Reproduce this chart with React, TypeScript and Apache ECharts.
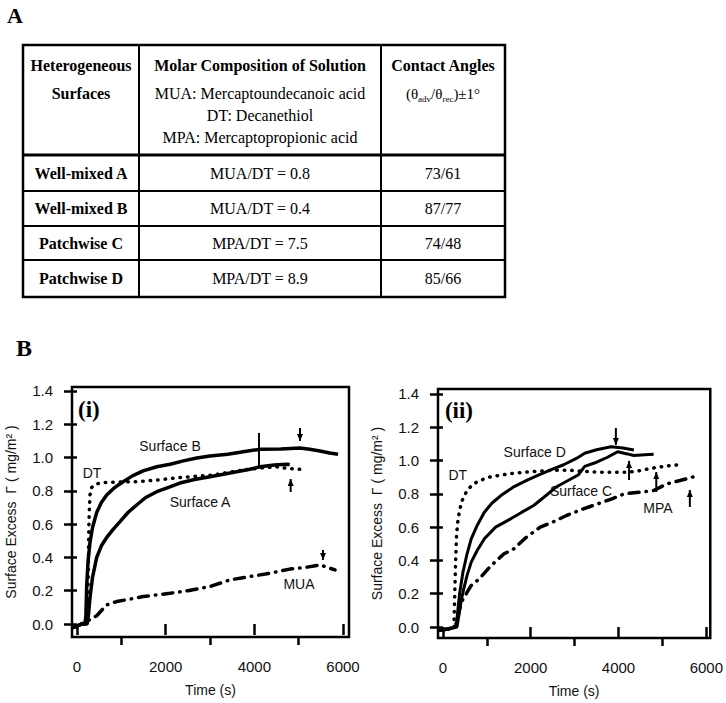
import { useEffect, useRef } from "react";
import * as echarts from "echarts";

// ---------- Data ----------
const xMajorTicks = [0, 2000, 4000, 6000];
const xMinorTicks = [1000, 3000, 5000];
const yTicks = [0, 0.2, 0.4, 0.6, 0.8, 1.0, 1.2, 1.4];

// Panel (i)
const surfaceB: [number, number][] = [
  [-50, -0.02], [100, 0.0], [180, 0.0], [200, 0.05], [218, 0.23], [250, 0.38], [293, 0.49], [350, 0.58],
  [444, 0.67], [550, 0.73], [670, 0.775], [850, 0.82], [1040, 0.855], [1250, 0.89], [1490, 0.92],
  [1800, 0.945], [2100, 0.96], [2400, 0.98], [2700, 0.997], [3000, 1.01], [3400, 1.02], [3750, 1.035],
  [4130, 1.05], [4600, 1.052], [5030, 1.057], [5250, 1.05], [5480, 1.04], [5700, 1.028], [5890, 1.02],
];
const surfaceA: [number, number][] = [
  [-50, -0.02], [100, 0.0], [230, 0.0], [260, 0.06], [293, 0.16], [350, 0.28], [444, 0.4], [550, 0.47],
  [670, 0.52], [820, 0.57], [970, 0.615], [1150, 0.67], [1345, 0.715], [1550, 0.76], [1800, 0.795],
  [2050, 0.82], [2320, 0.847], [2650, 0.868], [3000, 0.885], [3300, 0.9], [3600, 0.915], [3900, 0.93],
  [4130, 0.945], [4450, 0.955], [4730, 0.96], [4800, 0.958],
];
const dtI: [number, number][] = [
  [-80, -0.02], [100, 0.0], [200, 0.0], [240, 0.1], [255, 0.3], [262, 0.5], [270, 0.62], [280, 0.7],
  [293, 0.775], [330, 0.82], [406, 0.84], [587, 0.85], [900, 0.853], [1345, 0.855], [1800, 0.865],
  [2320, 0.88], [2700, 0.888], [3070, 0.895], [3400, 0.91], [3750, 0.925], [4130, 0.937], [4500, 0.945],
  [4730, 0.935], [5000, 0.93], [5180, 0.925],
];
const mua: [number, number][] = [
  [-80, -0.02], [100, 0.0], [250, 0.02], [444, 0.05], [670, 0.115], [895, 0.135], [1200, 0.15],
  [1490, 0.165], [1800, 0.175], [2100, 0.185], [2500, 0.2], [3000, 0.225], [3450, 0.265], [3900, 0.285],
  [4350, 0.305], [4800, 0.33], [5150, 0.34], [5480, 0.355], [5650, 0.34], [5820, 0.325],
];

// Panel (ii)
const surfaceD: [number, number][] = [
  [-50, -0.02], [150, -0.01], [300, 0.0], [340, 0.1], [380, 0.2], [457, 0.33], [550, 0.44], [645, 0.53],
  [780, 0.61], [944, 0.69], [1120, 0.745], [1320, 0.79], [1600, 0.84], [1920, 0.883], [2200, 0.915],
  [2440, 0.943], [2750, 0.975], [3040, 1.013], [3230, 1.044], [3500, 1.065], [3830, 1.083], [4100, 1.075],
  [4350, 1.064],
];
const surfaceC: [number, number][] = [
  [-50, -0.02], [150, -0.01], [320, 0.0], [370, 0.08], [410, 0.15], [457, 0.21], [550, 0.31], [645, 0.39],
  [780, 0.46], [944, 0.53], [1200, 0.6], [1544, 0.65], [1800, 0.69], [2067, 0.73], [2350, 0.79],
  [2590, 0.843], [2850, 0.88], [3080, 0.913], [3230, 0.965], [3500, 0.99], [3750, 1.02], [3980, 1.053],
  [4200, 1.04], [4350, 1.03], [4600, 1.035], [4800, 1.038],
];
const dtII: [number, number][] = [
  [-80, -0.02], [150, -0.01], [250, 0.0], [270, 0.2], [290, 0.4], [310, 0.55], [345, 0.65], [420, 0.75],
  [530, 0.81], [650, 0.85], [795, 0.875], [1050, 0.9], [1320, 0.913], [1650, 0.925], [1990, 0.933],
  [2400, 0.94], [2850, 0.943], [3200, 0.935], [3600, 0.93], [4240, 0.93], [4500, 0.94], [4730, 0.953],
  [5100, 0.968], [5480, 0.978],
];
const mpa: [number, number][] = [
  [-50, -0.02], [150, -0.01], [300, 0.02], [420, 0.15], [532, 0.2], [645, 0.25], [830, 0.29], [1100, 0.37],
  [1393, 0.44], [1618, 0.47], [1880, 0.535], [2218, 0.6], [2500, 0.63], [2816, 0.67], [3200, 0.71],
  [3530, 0.74], [3850, 0.77], [4130, 0.8], [4500, 0.81], [4800, 0.82], [5100, 0.86], [5400, 0.88],
  [5810, 0.91],
];

// Annotations (data coordinates): [gridIndex, t, vFrom, vTo, head]
const arrows: [number, number, number, number, string][] = [
  [0, 4105, 1.148, 0.943, "none"],
  [0, 5030, 1.178, 1.1, "down"],
  [0, 4820, 0.793, 0.871, "up"],
  [0, 5550, 0.445, 0.385, "down"],
  [1, 3940, 1.196, 1.094, "down"],
  [1, 4240, 0.883, 0.998, "up"],
  [1, 4860, 0.811, 0.931, "up"],
  [1, 5625, 0.721, 0.823, "up"],
];
// [gridIndex, t, v, text, align]
const curveLabels: [number, number, number, string, string][] = [
  [0, 2098, 1.07, "Surface B", "center"],
  [0, 338, 0.907, "DT", "center"],
  [0, 2775, 0.733, "Surface A", "center"],
  [0, 5008, 0.24, "MUA", "center"],
  [1, 2090, 1.05, "Surface D", "center"],
  [1, 337, 0.913, "DT", "center"],
  [1, 3146, 0.817, "Surface C", "center"],
  [1, 4900, 0.715, "MPA", "center"],
];
const panelLabels: [number, number, number, string][] = [
  [0, 23, 1.29, "(i)"],
  [1, 45, 1.3, "(ii)"],
];

// Table
const headerCol1 = ["Heterogeneous", "Surfaces"];
const headerCol2Title = "Molar Composition of Solution";
const headerCol2Lines = ["MUA: Mercaptoundecanoic acid", "DT: Decanethiol", "MPA: Mercaptopropionic acid"];
const headerCol3Title = "Contact Angles";
const surfaces = ["Well-mixed A", "Well-mixed B", "Patchwise C", "Patchwise D"];
const compositions = ["MUA/DT = 0.8", "MUA/DT = 0.4", "MPA/DT = 7.5", "MPA/DT = 8.9"];
const contactAngles = ["73/61", "87/77", "74/48", "85/66"];

const SANS = "'Liberation Sans', Arial, Helvetica, sans-serif";
const SERIF = "'Liberation Serif', 'Times New Roman', serif";

function buildTable(): any[] {
  const L = 23, R = 505, T = 45, B = 297;
  const c1 = 139, c2 = 381;
  const rowLines = [155, 191, 226, 260];
  const rowCenters = [173, 208.5, 243, 278.5];
  const g: any[] = [];
  g.push({ type: "rect", shape: { x: L, y: T, width: R - L, height: B - T }, style: { fill: "none", stroke: "#000", lineWidth: 2.5 } });
  [c1, c2].forEach((x) => g.push({ type: "line", shape: { x1: x, y1: T, x2: x, y2: B }, style: { stroke: "#000", lineWidth: 2 } }));
  rowLines.forEach((y, i) => g.push({ type: "line", shape: { x1: L, y1: y, x2: R, y2: y }, style: { stroke: "#000", lineWidth: i === 0 ? 3 : 2 } }));
  const cx = [(L + c1) / 2, (c1 + c2) / 2, (c2 + R) / 2];
  const txt = (x: number, y: number, text: string, bold: boolean, size = 16) => ({
    type: "text", x, y,
    style: { text, fill: "#000", font: `${bold ? "bold " : ""}${size}px ${SERIF}`, align: "center", verticalAlign: "middle" },
  });
  g.push(txt(cx[0], 65, headerCol1[0], true));
  g.push(txt(cx[0], 93, headerCol1[1], true));
  g.push(txt(cx[1], 65, headerCol2Title, true));
  headerCol2Lines.forEach((t, i) => g.push(txt(cx[1], 93 + i * 22, t, false)));
  g.push(txt(cx[2], 65, headerCol3Title, true));
  g.push({
    type: "text", x: cx[2], y: 94,
    style: {
      text: "{n|(θ}{s|adv}{n|/θ}{s|rec}{n|)±1°}",
      align: "center", verticalAlign: "middle", fill: "#000",
      rich: {
        n: { fontSize: 15, fontFamily: SERIF, lineHeight: 18, fill: "#000" },
        s: { fontSize: 9, fontFamily: SERIF, lineHeight: 18, verticalAlign: "bottom", padding: [6, 0, 0, 0], fill: "#000" },
      },
    },
  });
  surfaces.forEach((s, i) => {
    g.push(txt(cx[0], rowCenters[i], s, true));
    g.push(txt(cx[1], rowCenters[i], compositions[i], false));
    g.push(txt(cx[2], rowCenters[i], contactAngles[i], false));
  });
  g.push({ type: "text", x: 7, y: 15, style: { text: "A", font: `bold 22px ${SERIF}`, fill: "#000", verticalAlign: "middle" } });
  g.push({ type: "text", x: 16, y: 348, style: { text: "B", font: `bold 24px ${SERIF}`, fill: "#000", verticalAlign: "middle" } });
  return g;
}

function xAxesFor(gridIndex: number, min: number, max: number) {
  const common = { type: "value", gridIndex, min, max, position: "bottom", splitLine: { show: false }, axisLine: { show: false } };
  return [
    {
      ...common,
      name: "Time (s)", nameLocation: "middle", nameGap: 46,
      nameTextStyle: { fontFamily: SANS, fontSize: 14, color: "#111" },
      axisTick: { show: true, customValues: xMajorTicks, length: 11, lineStyle: { color: "#000", width: 2.5 } },
      axisLabel: { show: true, customValues: xMajorTicks, margin: 22, fontFamily: SANS, fontSize: 15, color: "#111", formatter: (v: number) => String(v) },
    },
    {
      ...common,
      axisTick: { show: true, customValues: xMinorTicks, length: 8, lineStyle: { color: "#000", width: 2.5 } },
      axisLabel: { show: false },
    },
  ];
}

function yAxisFor(gridIndex: number, min: number, max: number) {
  return {
    type: "value", gridIndex, min, max, position: "left",
    name: "Surface Excess  Γ ( mg/m² )", nameLocation: "middle", nameGap: 54,
    nameTextStyle: { fontFamily: SANS, fontSize: 14, color: "#111" },
    splitLine: { show: false }, axisLine: { show: false },
    axisTick: { show: true, customValues: yTicks, length: 13, lineStyle: { color: "#000", width: 2.5 } },
    axisLabel: { show: true, customValues: yTicks, margin: 19, fontFamily: SANS, fontSize: 15, color: "#111", formatter: (v: number) => v.toFixed(1) },
  };
}

const solid = { color: "#000", width: 3.5 };
const dotted = { color: "#000", width: 3.5, type: [0.5, 7], cap: "round" };
const dashDot = { color: "#000", width: 3.5, type: [10, 7, 0.5, 7], cap: "round" };

function line(name: string, data: [number, number][], xAxisIndex: number, yAxisIndex: number, lineStyle: any) {
  return { type: "line", name, data, xAxisIndex, yAxisIndex, symbol: "none", lineStyle, silent: true };
}

export default function App() {
  const ref = useRef<HTMLDivElement>(null);
  useEffect(() => {
    document.body.style.margin = "0";
    const chart = echarts.init(ref.current!, null, { renderer: "svg" });
    chart.setOption({
      animation: false,
      backgroundColor: "#fff",
      grid: [
        { left: 72, top: 387, width: 277, height: 250, show: true, borderColor: "#000", borderWidth: 2.5, backgroundColor: "transparent" },
        { left: 438, top: 389, width: 276, height: 249, show: true, borderColor: "#000", borderWidth: 2.5, backgroundColor: "transparent" },
      ],
      xAxis: [...xAxesFor(0, -113, 6136), ...xAxesFor(1, -112, 6090)],
      yAxis: [yAxisFor(0, -0.078, 1.424), yAxisFor(1, -0.066, 1.43)],
      series: [
        line("Surface B", surfaceB, 0, 0, solid),
        line("Surface A", surfaceA, 0, 0, solid),
        line("DT (i)", dtI, 0, 0, dotted),
        line("MUA", mua, 0, 0, dashDot),
        line("Surface D", surfaceD, 2, 1, { ...solid, width: 3 }),
        line("Surface C", surfaceC, 2, 1, { ...solid, width: 3 }),
        line("DT (ii)", dtII, 2, 1, dotted),
        line("MPA", mpa, 2, 1, dashDot),
      ],
    });

    const px = (gi: number, t: number, v: number) =>
      chart.convertToPixel({ xAxisIndex: gi === 0 ? 0 : 2, yAxisIndex: gi } as any, [t, v]) as number[];

    const graphics: any[] = buildTable();
    arrows.forEach(([gi, t, v1, v2, head]) => {
      const a = px(gi, t, v1);
      const b = px(gi, t, v2);
      graphics.push({ type: "line", shape: { x1: a[0], y1: a[1], x2: b[0], y2: b[1] }, style: { stroke: "#000", lineWidth: 2 } });
      if (head !== "none") {
        const tip = b;
        const dir = head === "down" ? -1 : 1;
        graphics.push({
          type: "polygon",
          shape: { points: [[tip[0], tip[1]], [tip[0] - 3, tip[1] + dir * 7], [tip[0] + 3, tip[1] + dir * 7]] },
          style: { fill: "#000" },
        });
      }
    });
    curveLabels.forEach(([gi, t, v, text, align]) => {
      const p = px(gi, t, v);
      graphics.push({ type: "text", x: p[0], y: p[1], style: { text, font: `14px ${SANS}`, fill: "#111", align, verticalAlign: "middle" } });
    });
    panelLabels.forEach(([gi, t, v, text]) => {
      const p = px(gi, t, v);
      graphics.push({ type: "text", x: p[0], y: p[1], style: { text, font: `bold 23px ${SERIF}`, fill: "#000", align: "left", verticalAlign: "middle" } });
    });
    chart.setOption({ graphic: graphics });
    return () => chart.dispose();
  }, []);
  return <div ref={ref} style={{ width: 726, height: 703 }} />;
}
